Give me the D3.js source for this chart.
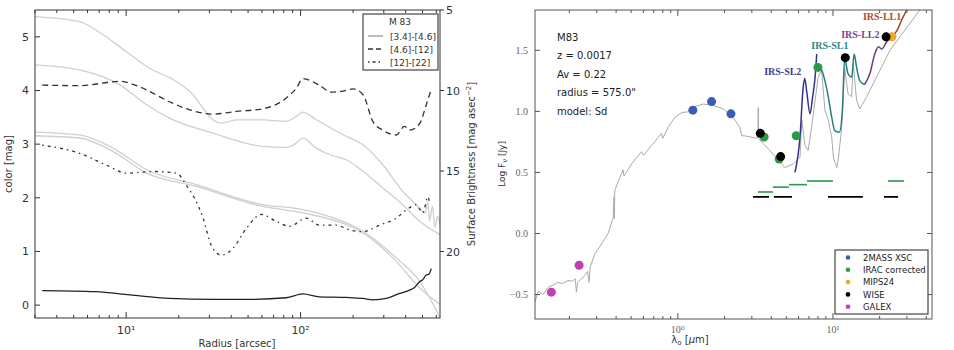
<!DOCTYPE html>
<html>
<head>
<meta charset="utf-8">
<script src="https://cdn.jsdelivr.net/npm/d3@7"></script>
<style>
  body { margin: 0; background: #fff; }
  svg { display: block; }
  text { font-family: "DejaVu Sans", sans-serif; }
  .serif { font-family: "Liberation Serif", "DejaVu Serif", serif; }
</style>
</head>
<body>
<div id="vis"></div>
<script>
// ---- left panel: colour profiles of M 83 (radius in arcsec, colour in mag)
var color34_46 = [[3.3,0.27],[6.7,0.25],[10.5,0.19],[17.7,0.125],[31.4,0.106],[48.9,0.106],[82.8,0.137],
  [103,0.21],[128,0.155],[183,0.143],[228,0.124],[260,0.099],[310,0.124],[370,0.218],[422,0.28],
  [450,0.33],[481,0.435],[500,0.47],[525,0.56],[545,0.58],[561,0.68]];
var color46_12 = [[3.3,4.10],[5.4,4.09],[9.2,4.17],[11.9,4.07],[17.7,3.79],[23.1,3.64],[31.4,3.56],
  [42.8,3.61],[60.8,3.66],[82.8,3.86],[94.4,4.04],[103,4.22],[128,4.10],[150,3.97],[175,3.99],
  [200,4.03],[228,3.92],[260,3.42],[296,3.26],[353,3.17],[394,3.33],[422,3.26],[481,3.38],[525,3.73],[561,4.02]];
var color12_22 = [[3.3,2.98],[5.4,2.83],[7.7,2.61],[10,2.46],[14.3,2.49],[19.4,2.46],[22.1,2.24],
  [27.6,1.62],[30.7,1.12],[35.1,0.93],[41,1.06],[48.9,1.43],[59.6,1.69],[72.6,1.56],[86.5,1.47],
  [108,1.62],[128,1.49],[160,1.49],[191,1.40],[228,1.37],[284,1.49],[353,1.62],[403,1.77],
  [460,1.87],[502,1.72],[537,2.02],[549,1.90]];

// surface brightness profiles (mag asec^-2, right axis)
var sbA = [[3,5.41],[5.4,5.72],[7.4,6.55],[10,7.58],[13.6,8.62],[19.4,9.44],[24.2,10.27],[27.6,11.1],
  [30.7,11.72],[35.1,12.03],[42.8,11.82],[60.8,11.82],[82.8,11.92],[94.4,11.61],[103,11.34],
  [123,11.82],[175,12.75],[228,13.37],[296,14.61],[385,16.26],[460,17.09],[520,17.6],[535,16.9],
  [549,18.1],[570,17.2],[590,18.5],[610,17.8],[630,18.3]];
var sbB = [[3,8.41],[5.4,8.72],[9.2,9.65],[13.1,10.89],[17.7,11.72],[31.4,12.65],[60.8,13.47],
  [82.8,13.53],[94.4,13.27],[103,12.96],[123,13.58],[147,13.99],[183,14.3],[228,15.02],
  [296,16.05],[385,17.09],[481,18.12],[630,18.95]];
var sbC = [[3,12.59],[5.4,12.76],[8.4,13.58],[13.1,14.92],[25.2,15.85],[60.8,17.09],[103,17.40],
  [183,18.22],[228,18.74],[353,20.39],[481,21.84],[630,24.1]];
var sbD = [[3,12.81],[5.4,12.95],[8.4,13.78],[13.1,15.13],[25.2,15.96],[60.8,17.2],[103,17.6],
  [183,18.33],[228,18.84],[353,20.6],[481,22.25],[630,23.29]];

var leftXTicks = [10, 100];
var leftYTicks = [0, 1, 2, 3, 4, 5];
var sbTicks = [5, 10, 15, 20];

// ---- right panel: SED of M83 (wavelength in micron, log flux in Jy)
var sedModel = [[0.12,-0.56],[0.126,-0.47],[0.135,-0.5],[0.146,-0.44],[0.158,-0.42],[0.169,-0.40],
  [0.18,-0.41],[0.196,-0.385],[0.21,-0.39],[0.218,-0.37],[0.222,-0.48],[0.226,-0.40],[0.252,-0.344],
  [0.262,-0.31],[0.268,-0.40],[0.272,-0.276],[0.292,-0.167],[0.322,-0.085],[0.355,0.0],[0.383,0.13],
  [0.388,0.30],[0.39,0.12],[0.392,0.35],[0.405,0.40],[0.444,0.52],[0.45,0.47],[0.503,0.57],
  [0.583,0.67],[0.6,0.64],[0.676,0.72],[0.785,0.82],[0.8,0.78],[0.866,0.87],[0.956,0.95],
  [1.06,0.99],[1.23,1.0],[1.255,1.035],[1.457,1.06],[1.69,1.05],[1.96,1.02],[2.27,0.95],
  [2.51,0.87],[2.58,0.80],[2.70,0.80],[3.21,0.78],[3.28,0.79],[3.3,1.03],[3.32,0.78],[3.46,0.75],
  [3.92,0.68],[4.54,0.585],[4.90,0.54],[5.55,0.57],[6.13,0.625],[6.3,0.93],[6.6,0.72],[6.92,0.68],
  [7.28,0.87],[8.03,1.28],[8.44,1.34],[8.88,1.01],[9.33,0.93],[9.82,0.79],[10.06,0.625],
  [10.3,0.58],[10.6,0.54],[10.8,0.6],[11.4,0.87],[11.9,1.36],[12.5,1.145],[13.2,1.12],[13.5,1.39],
  [14.2,1.09],[14.9,1.02],[16.5,1.12],[23.3,1.50],[36.3,1.83]];
var irsSL2 = [[5.69,0.50],[6.13,0.79],[6.43,1.20],[6.58,1.27],[6.8,1.145],[7.11,0.98],[7.4,1.12],
  [7.67,1.28],[7.86,1.47]];
var irsSL1 = [[7.78,1.39],[8.03,1.36],[8.44,1.34],[8.88,1.25],[9.33,1.12],[9.82,0.95],[10.3,0.84],
  [11.0,0.83],[11.5,1.01],[11.9,1.43],[12.5,1.31],[13.2,1.28],[13.7,1.47],[14.2,1.36],[14.9,1.25],[16.0,1.22]];
var irsLL2 = [[16.0,1.22],[17.3,1.31],[18.6,1.47],[19.6,1.53],[20.6,1.51],[22.2,1.57],[23.9,1.61]];
var irsLL1 = [[23.9,1.61],[25.8,1.66],[27.8,1.75],[29.9,1.83]];

var galex = [[0.153,-0.48],[0.231,-0.26]];
var twomass = [[1.25,1.01],[1.65,1.08],[2.2,0.98]];
var irac = [[3.6,0.79],[4.5,0.61],[5.8,0.80],[8.0,1.36]];
var mips = [[24,1.61]];
var wise = [[3.4,0.82],[4.6,0.63],[12,1.44],[22,1.61]];

// filter bandwidth bars [start, end, log flux]
var iracBars = [[3.28,4.10,0.34],[4.10,5.2,0.38],[5.2,6.8,0.40],[6.8,10.0,0.43],[22.6,28.7,0.43]];
var wiseBars = [[3.05,3.87,0.30],[4.16,5.44,0.30],[9.29,15.6,0.30],[21.3,26.3,0.30]];

var rightYTicks = [-0.5, 0.0, 0.5, 1.0, 1.5];
var rightXTicks = [1, 10];
var sedInfo = ["M83", "z = 0.0017", "Av = 0.22", "radius = 575.0\"", "model: Sd"];
var legendNames = ["2MASS XSC", "IRAC corrected", "MIPS24", "WISE", "GALEX"];
var legendColors = ["#3a5cb4", "#2a9a48", "#f5a623", "#000000", "#c040b0"];

var width = 954, height = 350;
var svg = d3.select('#vis').append('svg')
  .attr('width', width)
  .attr('height', height);

// minor tick values for a log axis
function minorTicks(lo, hi) {
  var out = [];
  for (var e = Math.floor(Math.log10(lo)); e <= Math.ceil(Math.log10(hi)); e++) {
    for (var k = 1; k < 10; k++) {
      var v = k * Math.pow(10, e);
      if (v >= lo && v <= hi && k !== 1) out.push(v);
    }
  }
  return out;
}

var supDigits = { '0': '\u2070', '1': '\u00b9', '2': '\u00b2' };

/* ======================= left panel ======================= */
var lx = d3.scaleLog().domain([3, 630]).range([35, 440]);
var ly = d3.scaleLinear().domain([-0.24, 5.5]).range([318, 10]);
var ry = d3.scaleLinear().domain([5, 24.13]).range([10, 318]);

var left = svg.append('g');

var sbLine = d3.line().x(d => lx(d[0])).y(d => ry(d[1])).curve(d3.curveMonotoneX);
var colLine = d3.line().x(d => lx(d[0])).y(d => ly(d[1])).curve(d3.curveMonotoneX);

[sbA, sbB, sbC, sbD].forEach(function (s) {
  left.append('path').attr('d', sbLine(s))
    .attr('fill', 'none').attr('stroke', '#cfcfcf').attr('stroke-width', 1.3);
});

left.append('path').attr('d', colLine(color34_46))
  .attr('fill', 'none').attr('stroke', '#222').attr('stroke-width', 1.3);
left.append('path').attr('d', colLine(color46_12))
  .attr('fill', 'none').attr('stroke', '#333').attr('stroke-width', 1.3)
  .attr('stroke-dasharray', '6,4');
left.append('path').attr('d', colLine(color12_22))
  .attr('fill', 'none').attr('stroke', '#333').attr('stroke-width', 1.3)
  .attr('stroke-dasharray', '1.5,4,3,4');

// frame
left.append('rect').attr('x', 35).attr('y', 10).attr('width', 405).attr('height', 308)
  .attr('fill', 'none').attr('stroke', '#333').attr('stroke-width', 1);

// x ticks (bottom and top, inward)
leftXTicks.forEach(function (t) {
  [[318, -6], [10, 6]].forEach(function (p) {
    left.append('line').attr('x1', lx(t)).attr('x2', lx(t))
      .attr('y1', p[0]).attr('y2', p[0] + p[1]).attr('stroke', '#333');
  });
  left.append('text').attr('x', lx(t)).attr('y', 334).attr('text-anchor', 'middle')
    .attr('font-size', 11).attr('fill', '#333')
    .text('10' + supDigits[String(Math.log10(t))]);
});
minorTicks(3, 630).forEach(function (t) {
  [[318, -3], [10, 3]].forEach(function (p) {
    left.append('line').attr('x1', lx(t)).attr('x2', lx(t))
      .attr('y1', p[0]).attr('y2', p[0] + p[1]).attr('stroke', '#333');
  });
});

leftYTicks.forEach(function (t) {
  left.append('line').attr('x1', 35).attr('x2', 40).attr('y1', ly(t)).attr('y2', ly(t)).attr('stroke', '#333');
  left.append('text').attr('x', 29).attr('y', ly(t) + 4).attr('text-anchor', 'end')
    .attr('font-size', 11).attr('fill', '#333').text(t);
});
sbTicks.forEach(function (t) {
  left.append('line').attr('x1', 440).attr('x2', 444).attr('y1', ry(t)).attr('y2', ry(t)).attr('stroke', '#333');
  left.append('text').attr('x', 446).attr('y', ry(t) + 4)
    .attr('font-size', 11).attr('fill', '#333').text(t);
});

left.append('text').attr('transform', 'translate(12,164) rotate(-90)')
  .attr('text-anchor', 'middle').attr('font-size', 10).attr('fill', '#333').text('color [mag]');
left.append('text').attr('x', 237).attr('y', 347)
  .attr('text-anchor', 'middle').attr('font-size', 10).attr('fill', '#333').text('Radius [arcsec]');
var sbLab = left.append('text').attr('transform', 'translate(475,164) rotate(-90)')
  .attr('text-anchor', 'middle').attr('font-size', 10).attr('fill', '#333');
sbLab.append('tspan').text('Surface Brightness [mag asec');
sbLab.append('tspan').attr('dy', -4).attr('font-size', 7).text('\u22122');
sbLab.append('tspan').attr('dy', 4).text(']');

// legend
var lg = left.append('g').attr('transform', 'translate(363,14)');
lg.append('rect').attr('width', 75).attr('height', 56)
  .attr('fill', '#fff').attr('stroke', '#444').attr('stroke-width', 1.2);
lg.append('text').attr('x', 37).attr('y', 11).attr('text-anchor', 'middle')
  .attr('font-size', 9).attr('fill', '#333').text('M 83');
var legLines = [
  { name: '[3.4]-[4.6]', dash: null, col: '#999' },
  { name: '[4.6]-[12]', dash: '5,3', col: '#333' },
  { name: '[12]-[22]', dash: '1.5,3,3,3', col: '#333' }
];
legLines.forEach(function (d, i) {
  var yy = 22 + i * 13;
  lg.append('line').attr('x1', 5).attr('x2', 20).attr('y1', yy).attr('y2', yy)
    .attr('stroke', d.col).attr('stroke-width', 1.3).attr('stroke-dasharray', d.dash);
  lg.append('text').attr('x', 27).attr('y', yy + 3.5)
    .attr('font-size', 9).attr('fill', '#333').text(d.name);
});

/* ======================= right panel ======================= */
var sx = d3.scaleLog().domain([0.12, 43.5]).range([535, 932]);
var sy = d3.scaleLinear().domain([-0.70, 1.83]).range([319, 10]);

var right = svg.append('g');
right.append('clipPath').attr('id', 'clipR').append('rect')
  .attr('x', 535).attr('y', 10).attr('width', 397).attr('height', 309);
var plot = right.append('g').attr('clip-path', 'url(#clipR)');

var sedLine = d3.line().x(d => sx(d[0])).y(d => sy(d[1]));

plot.append('path').attr('d', sedLine(sedModel))
  .attr('fill', 'none').attr('stroke', '#aaa').attr('stroke-width', 1);

var irs = [
  { data: irsSL2, col: '#33338a' },
  { data: irsSL1, col: '#2a7d7d' },
  { data: irsLL2, col: '#6e3a86' },
  { data: irsLL1, col: '#9c3f2c' }
];
irs.forEach(function (d) {
  plot.append('path').attr('d', sedLine.curve(d3.curveMonotoneX)(d.data))
    .attr('fill', 'none').attr('stroke', d.col).attr('stroke-width', 1.5);
});
sedLine.curve(d3.curveLinear);

iracBars.forEach(function (b) {
  plot.append('line').attr('x1', sx(b[0])).attr('x2', sx(b[1]))
    .attr('y1', sy(b[2])).attr('y2', sy(b[2])).attr('stroke', '#2a9a48').attr('stroke-width', 1.6);
});
wiseBars.forEach(function (b) {
  plot.append('line').attr('x1', sx(b[0])).attr('x2', sx(b[1]))
    .attr('y1', sy(b[2])).attr('y2', sy(b[2])).attr('stroke', '#000').attr('stroke-width', 1.8);
});

var phot = [
  { data: galex, col: legendColors[4] },
  { data: twomass, col: legendColors[0] },
  { data: mips, col: legendColors[2] },
  { data: irac, col: legendColors[1] },
  { data: wise, col: legendColors[3] }
];
phot.forEach(function (p) {
  plot.selectAll(null).data(p.data).enter().append('circle')
    .attr('cx', d => sx(d[0])).attr('cy', d => sy(d[1])).attr('r', 4.5)
    .attr('fill', p.col);
});

// IRS labels
var irsLabels = [
  { t: 'IRS-SL2', x: 3.6, y: 1.30, col: '#3d3d90' },
  { t: 'IRS-SL1', x: 7.25, y: 1.51, col: '#2f8585' },
  { t: 'IRS-LL2', x: 11.3, y: 1.60, col: '#7d4291' },
  { t: 'IRS-LL1', x: 15.6, y: 1.75, col: '#b04b35' }
];
irsLabels.forEach(function (d) {
  right.append('text').attr('class', 'serif').attr('x', sx(d.x)).attr('y', sy(d.y))
    .attr('font-size', 10).attr('font-weight', 'bold').attr('fill', d.col).text(d.t);
});

right.append('rect').attr('x', 535).attr('y', 10).attr('width', 397).attr('height', 309)
  .attr('fill', 'none').attr('stroke', '#555').attr('stroke-width', 1);

rightYTicks.forEach(function (t) {
  right.append('line').attr('x1', 535).attr('x2', 540).attr('y1', sy(t)).attr('y2', sy(t)).attr('stroke', '#555');
  right.append('line').attr('x1', 932).attr('x2', 927).attr('y1', sy(t)).attr('y2', sy(t)).attr('stroke', '#555');
  right.append('text').attr('class', 'serif').attr('x', 528).attr('y', sy(t) + 3.5)
    .attr('text-anchor', 'end').attr('font-size', 10).attr('fill', '#666')
    .text(t < 0 ? '\u2212' + Math.abs(t).toFixed(1) : t.toFixed(1));
});
rightXTicks.forEach(function (t) {
  [[319, -6], [10, 6]].forEach(function (p) {
    right.append('line').attr('x1', sx(t)).attr('x2', sx(t))
      .attr('y1', p[0]).attr('y2', p[0] + p[1]).attr('stroke', '#555');
  });
  right.append('text').attr('class', 'serif').attr('x', sx(t)).attr('y', 333)
    .attr('text-anchor', 'middle').attr('font-size', 10).attr('fill', '#666')
    .text('10' + supDigits[String(Math.log10(t))]);
});
minorTicks(0.12, 43.5).forEach(function (t) {
  [[319, -3], [10, 3]].forEach(function (p) {
    right.append('line').attr('x1', sx(t)).attr('x2', sx(t))
      .attr('y1', p[0]).attr('y2', p[0] + p[1]).attr('stroke', '#555');
  });
});

var yLab = right.append('text').attr('transform', 'translate(505,164) rotate(-90)')
  .attr('text-anchor', 'middle').attr('font-size', 9).attr('fill', '#333');
yLab.append('tspan').text('Log F');
yLab.append('tspan').attr('dy', 2).attr('font-size', 7).text('\u03bd');
yLab.append('tspan').attr('dy', -2).text(' [Jy]');
var xLab = right.append('text').attr('x', 690).attr('y', 343)
  .attr('text-anchor', 'middle').attr('font-size', 10).attr('fill', '#333');
xLab.append('tspan').text('\u03bb');
xLab.append('tspan').attr('dy', 2).attr('font-size', 7).text('o');
xLab.append('tspan').attr('dy', -2).text(' [');
xLab.append('tspan').attr('font-style', 'italic').text('\u03bc');
xLab.append('tspan').text('m]');

sedInfo.forEach(function (s, i) {
  right.append('text').attr('x', 557).attr('y', 41 + i * 18.4)
    .attr('font-size', 10).attr('fill', '#222').text(s);
});

// legend
var rl = right.append('g').attr('transform', 'translate(835,250)');
rl.append('rect').attr('width', 93).attr('height', 64)
  .attr('fill', '#fff').attr('stroke', '#444').attr('stroke-width', 1.2);
legendNames.forEach(function (n, i) {
  var yy = 7.5 + i * 12.3;
  rl.append('circle').attr('cx', 13).attr('cy', yy).attr('r', 2.3).attr('fill', legendColors[i]);
  rl.append('text').attr('x', 28).attr('y', yy + 3.2).attr('font-size', 8.5)
    .attr('fill', '#222').text(n);
});
</script>
</body>
</html>
